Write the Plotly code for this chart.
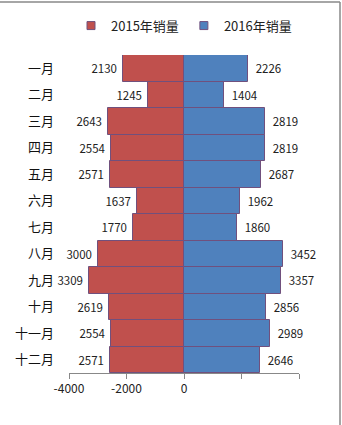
import plotly.graph_objects as go

months = ["一月", "二月", "三月", "四月", "五月", "六月", "七月", "八月", "九月", "十月", "十一月", "十二月"]
sales_2015 = [2130, 1245, 2643, 2554, 2571, 1637, 1770, 3000, 3309, 2619, 2554, 2571]
sales_2016 = [2226, 1404, 2819, 2819, 2687, 1962, 1860, 3452, 3357, 2856, 2989, 2646]
x_ticks = [-4000, -2000, 0, 2000, 4000]
x_tick_labels = ["-4000", "-2000", "0", "", ""]

font = "Noto Sans CJK SC, DejaVu Sans, sans-serif"
outline = "rgb(112,80,125)"
red = "#C0504D"
blue = "#4F81BD"
nb = "\u00a0"

fig = go.Figure()
fig.add_trace(go.Bar(
    y=months, x=[-v for v in sales_2015], orientation="h", name="2015年销量",
    marker=dict(color=red, line=dict(color=outline, width=1)),
    text=[str(v) + nb for v in sales_2015], textposition="outside",
    textfont=dict(size=11.5, color="#222", family=font), cliponaxis=False,
    hoverinfo="skip", showlegend=False,
))
fig.add_trace(go.Bar(
    y=months, x=sales_2016, orientation="h", name="2016年销量",
    marker=dict(color=blue, line=dict(color=outline, width=1)),
    text=[nb + nb + str(v) for v in sales_2016], textposition="outside",
    textfont=dict(size=11.5, color="#222", family=font), cliponaxis=False,
    hoverinfo="skip", showlegend=False,
))
# legend entries with small square swatches
for name, col in [("2015年销量", red), ("2016年销量", blue)]:
    fig.add_trace(go.Scatter(
        x=[None], y=[None], mode="markers", name=name,
        marker=dict(symbol="square", size=8, color=col, line=dict(color=outline, width=1)),
    ))

fig.update_layout(
    width=342, height=425,
    margin=dict(l=69, r=43, t=55, b=52),
    barmode="relative", bargap=0,
    paper_bgcolor="white", plot_bgcolor="white",
    font=dict(family=font, size=12, color="#111"),
    legend=dict(orientation="h", x=0.5, xanchor="center", y=0.975, yref="container",
                yanchor="top", font=dict(size=13, color="#222"), itemwidth=30,
                traceorder="normal"),
    showlegend=True,
    xaxis=dict(range=[-4000, 4000], tickvals=x_ticks, ticktext=x_tick_labels,
               showgrid=False, zeroline=False, showline=True, linecolor="#888",
               ticks="outside", ticklen=5, tickcolor="#888",
               tickfont=dict(size=12, color="#222")),
    yaxis=dict(autorange="reversed", showgrid=False, zeroline=False, showline=False,
               ticks="", ticklabelstandoff=14, tickfont=dict(size=13, color="#111")),
    shapes=[
        dict(type="line", xref="paper", yref="paper", x0=-69/230, x1=(340-69)/230,
             y0=(425-2-52)/318, y1=(425-2-52)/318, line=dict(color="#888", width=1.5)),
        dict(type="line", xref="paper", yref="paper", x0=(340-69)/230, x1=(340-69)/230,
             y0=(425-2-52)/318, y1=-52/318, line=dict(color="#888", width=1.5)),
    ],
)

fig.write_html("out.html")
